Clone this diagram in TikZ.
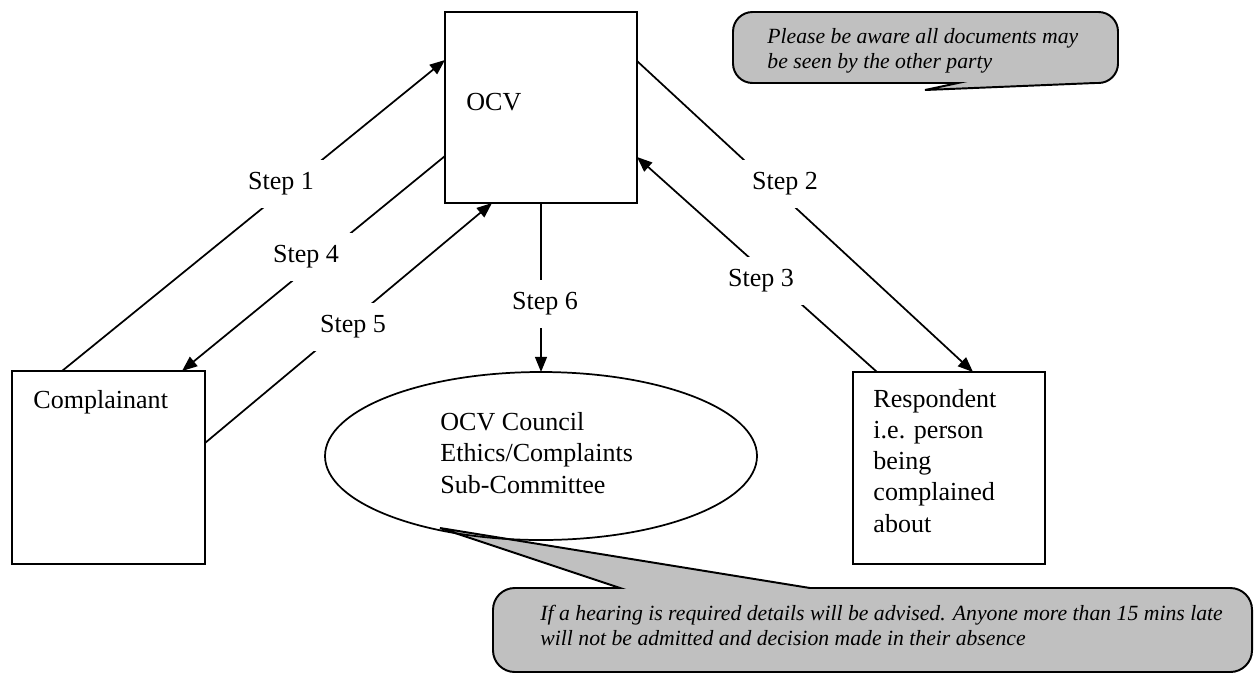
\documentclass[tikz,border=0pt]{standalone}
\usepackage{fontspec}
\setmainfont{Liberation Serif}
\usetikzlibrary{shapes.geometric,arrows.meta,calc}
\definecolor{notegray}{RGB}{192,192,192}
\tikzstyle{box} = [draw, line width=1pt, rectangle, inner sep=0pt, outer sep=0pt]
\tikzstyle{blob} = [draw, line width=0.8pt, ellipse, inner sep=0pt, outer sep=0pt, minimum width=432*0.4608pt, minimum height=168*0.4608pt]
\tikzstyle{txt} = [anchor=base west, inner sep=0pt, align=left, font=\fontsize{12}{14.3}\selectfont]
\tikzstyle{lbl} = [fill=white, inner sep=6pt, font=\fontsize{12}{14.3}\selectfont]
\tikzstyle{link} = [line width=0.8pt, -{Triangle[length=7pt,width=5.5pt]}]
\tikzstyle{note} = [draw, fill=notegray, line width=0.9pt]
\tikzstyle{notetxt} = [anchor=base west, inner sep=0pt, align=left, font=\fontsize{10}{11.5}\selectfont\itshape]
\tikzset{sz/.style 2 args={minimum width=#1*0.4608pt, minimum height=#2*0.4608pt}}

\begin{document}
\begin{tikzpicture}[x=0.4608pt, y=-0.4608pt]
\useasboundingbox (0,0) rectangle (1254,674);

\filldraw[note] (840,83) -- (958,83) -- (925,90) -- (1095,83) [rounded corners=9pt] -- (1118,83) -- (1118,12) -- (733,12) -- (733,83) -- cycle;
\filldraw[note] (550,588) -- (620,588) -- (440,528) -- (810,588) [rounded corners=10pt] -- (1252,588) -- (1252,672) -- (493,672) -- (493,588) -- cycle;
\node[notetxt] (warn) at (767,68) {Please be aware all documents may\\be seen by the other party};
\node[notetxt] (hear) at (540,645) {If a hearing is required details will be advised. Anyone more than 15 mins late\\will not be admitted and decision made in their absence};

\node[box, sz={192}{191}] (ocv) at (541,107.5) {};
\node[box, sz={193}{193}] (comp) at (108.5,467.5) {};
\node[box, sz={192}{192}] (resp) at (949,468) {};
\node[blob] (council) at (541,456) {};

\node[txt] (ocvt) at (466,110) {OCV};
\node[txt] (compt) at (33,408) {Complainant};
\node[txt] (respt) at (873,532) {Respondent\\i.e. person\\being\\complained\\about};
\node[txt] (councilt) at (440,493) {OCV Council\\Ethics/Complaints\\Sub-Committee};

\draw[link] ($(comp.north west)+(50,0)$) -- ($(ocv.north west)+(0,48)$);
\draw[link] ($(ocv.north east)+(0,49)$) -- ($(resp.north west)+(120,0)$);
\draw[link] ($(resp.north west)+(24,0)$) -- ($(ocv.north east)+(0,145)$);
\draw[link] ($(ocv.north west)+(0,144)$) -- ($(comp.north west)+(170,0)$);
\draw[link] ($(comp.north east)+(0,72)$) -- ($(ocv.south west)+(47,0)$);
\draw[link] (ocv.south) -- (council.north);

\node[lbl] (s1) at (281,184) {Step 1};
\node[lbl] (s2) at (785,184) {Step 2};
\node[lbl] (s3) at (761,281) {Step 3};
\node[lbl] (s4) at (306,257) {Step 4};
\node[lbl] (s5) at (353,327) {Step 5};
\node[lbl] (s6) at (545,304) {Step 6};
\end{tikzpicture}
\end{document}
